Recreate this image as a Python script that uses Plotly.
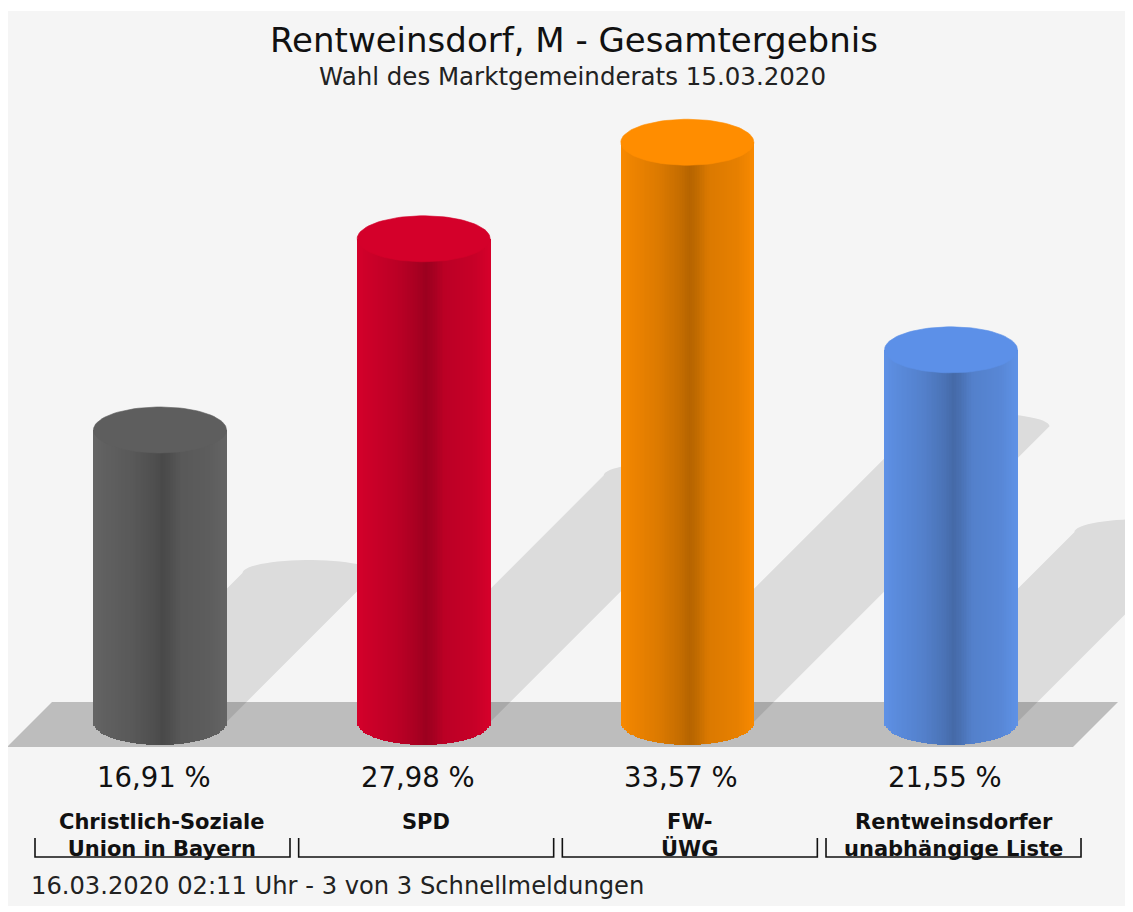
import numpy as np
import plotly.graph_objects as go

# ---------------- data ----------------
parties = ["Christlich-Soziale<br>Union in Bayern", "SPD", "FW-<br>ÜWG",
           "Rentweinsdorfer<br>unabhängige Liste"]
shares = [16.91, 27.98, 33.57, 21.55]
edge_colors = ["#656565", "#d6002b", "#f98a00", "#5f92e7"]
top_colors = ["#5e5e5e", "#d4002a", "#ff8d00", "#5c90e8"]

title = "Rentweinsdorf, M - Gesamtergebnis"
subtitle = "Wahl des Marktgemeinderats 15.03.2020"
footer = "16.03.2020 02:11 Uhr - 3 von 3 Schnellmeldungen"

# ---------------- geometry (window pixel <-> data) ----------------
WIN_W, WIN_H = 1133, 912
OFF = 8                       # default page body margin
W, H = WIN_W - OFF, WIN_H - OFF
PX_X0 = 160.0      # window pixel x of first category
PX_STEP = 263.67   # pixels per category
PX_Y0 = 722.0      # window pixel y of value 0
PX_PER_UNIT = 17.27


def xd(px):
    return (px - PX_X0) / PX_STEP


def yd(py):
    return (PX_Y0 - py) / PX_PER_UNIT


def pxp(px):
    return (px - OFF) / W


def pyp(py):
    return 1 - (py - OFF) / H


def hexrgb(c):
    c = c.lstrip("#")
    return [int(c[i:i + 2], 16) for i in (0, 2, 4)]


def shade(c, f):
    r, g, b = hexrgb(c)
    return "rgb(%d,%d,%d)" % (min(255, r * f), min(255, g * f), min(255, b * f))


xs = np.arange(len(shares), dtype=float)
hw = 66.5 / PX_STEP                 # half cylinder width in x units
ry = 23.0 / PX_PER_UNIT             # ellipse half height in y units

# shading profile across the cylinder
prof_u = [0.0, 0.08, 0.3, 0.45, 0.52, 0.57, 0.66, 0.88, 1.0]
prof_f = [1.0, 0.96, 0.88, 0.79, 0.73, 0.77, 0.88, 0.93, 1.0]

fig = go.Figure()

N = 80
sw = 2 * hw / N
for i in range(N):
    u = (i + 0.5) / N
    off = (u - 0.5) * 2 * hw
    f = float(np.interp(u, prof_u, prof_f))
    t = 2 * u - 1
    base = -ry * np.sqrt(max(0.0, 1 - t * t))
    fig.add_trace(go.Bar(
        x=xs + off,
        y=[v - base for v in shares],
        base=[base] * len(shares),
        width=[sw * 1.4] * len(shares),
        marker=dict(color=[shade(c, f) for c in edge_colors], line=dict(width=0)),
        hoverinfo="skip", showlegend=False,
    ))

# top faces
th = np.linspace(0, 2 * np.pi, 90)
for cx, v, c in zip(xs, shares, top_colors):
    fig.add_trace(go.Scatter(
        x=cx + hw * np.cos(th), y=v + ry * np.sin(th),
        mode="lines", fill="toself", fillcolor=c,
        line=dict(width=0.6, color=c), hoverinfo="skip", showlegend=False,
    ))

# ---------------- shapes: background, floor, shadows, brackets ----------------
shapes = []
shapes.append(dict(type="rect", xref="paper", yref="paper",
                   x0=0, x1=1, y0=pyp(906), y1=pyp(11),
                   fillcolor="#f5f5f5", line=dict(width=0), layer="below"))

floor = [(7, 747), (52, 702), (1118, 702), (1073, 747)]
path = "M " + " L ".join("%f,%f" % (xd(px), yd(py)) for px, py in floor) + " Z"
shapes.append(dict(type="path", xref="x", yref="y", path=path,
                   fillcolor="#bdbdbd", line=dict(width=0), layer="below"))

SH = 0.51
cap_ry = 13.0 / PX_PER_UNIT
for cx, v in zip(xs, shares):
    sy = SH * v
    sx = SH * v * PX_PER_UNIT / PX_STEP
    pts = [(cx - hw, 0.0), (cx - hw + sx, sy)]
    a = np.linspace(np.pi, 0, 30)
    pts += [(cx + sx + hw * np.cos(q), sy + cap_ry * np.sin(q)) for q in a]
    pts += [(cx + hw + sx, sy), (cx + hw, 0.0)]
    b = np.linspace(0, -np.pi, 30)
    pts += [(cx + hw * np.cos(q), ry * np.sin(q)) for q in b]
    p = "M " + " L ".join("%f,%f" % pt for pt in pts) + " Z"
    shapes.append(dict(type="path", xref="x", yref="y", path=p,
                       fillcolor="rgba(0,0,0,0.10)", line=dict(width=0),
                       layer="below"))

bh = 127.5 / PX_STEP
for cx in xs:
    xl, xr = cx - bh + xd(PX_X0 + 2.5), cx + bh + xd(PX_X0 + 2.5)
    y_top, y_bot = yd(838), yd(857)
    shapes.append(dict(type="path", xref="x", yref="y",
                       path="M %f,%f L %f,%f L %f,%f L %f,%f" % (
                           xl, y_top, xl, y_bot, xr, y_bot, xr, y_top),
                       line=dict(color="#111111", width=1.6)))

# ---------------- annotations ----------------
FONT = "DejaVu Sans"
ann = [
    dict(text=title, x=pxp(574), y=pyp(40), xref="paper", yref="paper",
         showarrow=False, xanchor="center", yanchor="middle",
         font=dict(family=FONT, size=34, color="#111111")),
    dict(text=subtitle, x=pxp(572), y=pyp(76), xref="paper", yref="paper",
         showarrow=False, xanchor="center", yanchor="middle",
         font=dict(family=FONT, size=24.5, color="#222222")),
    dict(text=footer, x=pxp(29), y=pyp(886), xref="paper", yref="paper",
         showarrow=False, xanchor="left", yanchor="middle",
         font=dict(family=FONT, size=24.2, color="#222222")),
]
for cx, v, name in zip(xs, shares, parties):
    ann.append(dict(text=("%.2f" % v).replace(".", ",") + " %",
                    x=cx, y=yd(777), xref="x", yref="y", xshift=-6,
                    showarrow=False, xanchor="center", yanchor="middle",
                    font=dict(family=FONT, size=27.5, color="#111111")))
    ann.append(dict(text="<b>" + name + "</b>",
                    x=cx + xd(PX_X0 + 2), y=yd(808), xref="x", yref="y",
                    showarrow=False, xanchor="center", yanchor="top",
                    font=dict(family=FONT, size=21, color="#111111")))

fig.update_layout(
    width=W, height=H,
    margin=dict(l=0, r=0, t=0, b=0),
    paper_bgcolor="white", plot_bgcolor="white",
    barmode="overlay", bargap=0,
    xaxis=dict(range=[xd(OFF), xd(WIN_W)], visible=False, fixedrange=True),
    yaxis=dict(range=[yd(WIN_H), yd(OFF)], visible=False, fixedrange=True),
    shapes=shapes, annotations=ann, showlegend=False,
)

fig.write_html("out.html")
